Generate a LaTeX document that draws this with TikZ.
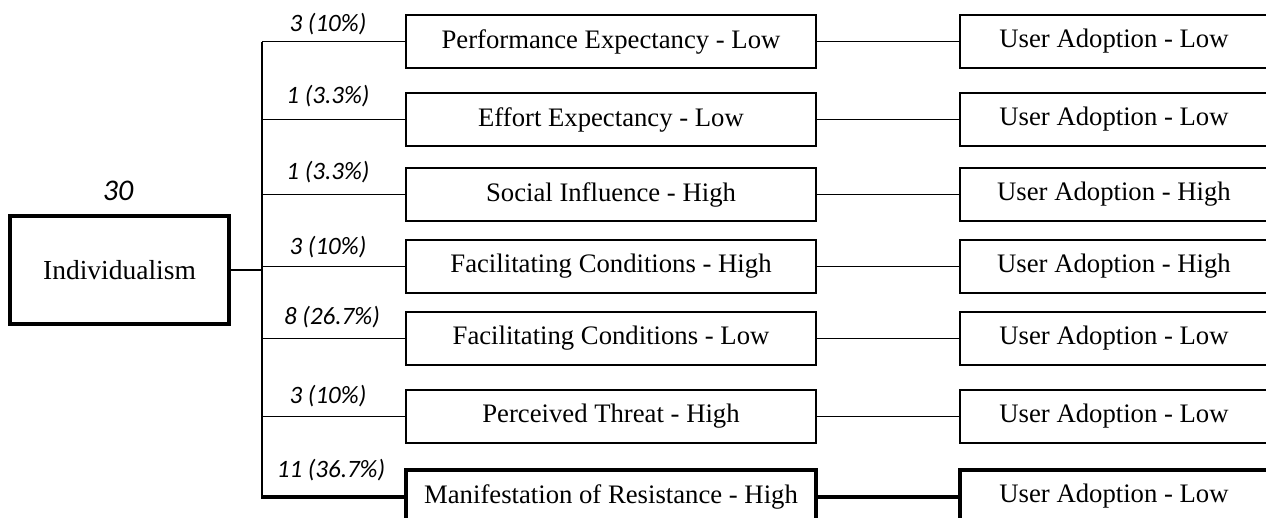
\documentclass[tikz,border=0pt]{standalone}
\usepackage{fontspec}
\setmainfont{Liberation Serif}
\newfontfamily\countfont{Carlito}

\tikzset{
    factor/.style={draw, line width=1.4pt, minimum width=410pt, minimum height=53pt,
        inner sep=0pt, align=center, font=\fontsize{26.7}{30}\selectfont},
    adoption/.style={factor, minimum width=308pt},
    chosen/.style={line width=4pt},
    link/.style={line width=1.4pt},
    count/.style={font=\countfont\itshape\fontsize{25}{28}\selectfont, inner sep=0pt}
}

\begin{document}
\begin{tikzpicture}[x=1pt,y=-1pt]

\useasboundingbox (0,0) rectangle (1266,517);
\clip (0,0) rectangle (1266,517);

% root
\node[
    draw,
    line width=4pt,
    minimum width=219pt,
    minimum height=108pt,
    inner sep=0pt,
    font=\fontsize{27.5}{30}\selectfont
] (root) at (119.5,270) {Individualism};
\node[count, font=\countfont\itshape\fontsize{30}{32}\selectfont] (total) at (118,191) {30};

% factors
\node[factor] (f1) at (611,41.5) {Performance Expectancy - Low};
\node[factor] (f2) at (611,119.5) {Effort Expectancy - Low};
\node[factor] (f3) at (611,194.5) {Social Influence - High};
\node[factor] (f4) at (611,266.5) {Facilitating Conditions - High};
\node[factor] (f5) at (611,338.5) {Facilitating Conditions - Low};
\node[factor] (f6) at (611,416.5) {Perceived Threat - High};
\node[factor, line width=4pt] (f7) at (611,496.5) {Manifestation of Resistance - High};

% outcomes
\node[adoption] (u1) at (1114,41.5) {User Adoption - Low};
\node[adoption] (u2) at (1114,119.5) {User Adoption - Low};
\node[adoption] (u3) at (1114,194.5) {User Adoption - High};
\node[adoption] (u4) at (1114,266.5) {User Adoption - High};
\node[adoption] (u5) at (1114,338.5) {User Adoption - Low};
\node[adoption] (u6) at (1114,416.5) {User Adoption - Low};
\node[adoption, line width=4pt] (u7) at (1114,496.5) {User Adoption - Low};

% counts per branch
\node[count] (n1) at (328,24) {3 (10\%)};
\node[count] (n2) at (328,96) {1 (3.3\%)};
\node[count] (n3) at (328,172) {1 (3.3\%)};
\node[count] (n4) at (328,247) {3 (10\%)};
\node[count] (n5) at (332,317) {8 (26.7\%)};
\node[count] (n6) at (328,396) {3 (10\%)};
\node[count] (n7) at (331,470) {11 (36.7\%)};

% tree
\coordinate (trunk) at (262,0);
\draw[link] (root.east) -- (trunk |- root.east);
\draw[link] (trunk |- f1.west) -- (trunk |- f7.west);
\foreach \i in {1,...,6}
    \draw[link] (trunk |- f\i.west) -- (f\i.west);
\draw[chosen] ([xshift=-0.7pt]trunk |- f7.west) -- (f7.west);

\foreach \i in {1,...,6}
    \draw[link] (f\i.east) -- (u\i.west);
\draw[chosen] (f7.east) -- (u7.west);

\end{tikzpicture}
\end{document}
